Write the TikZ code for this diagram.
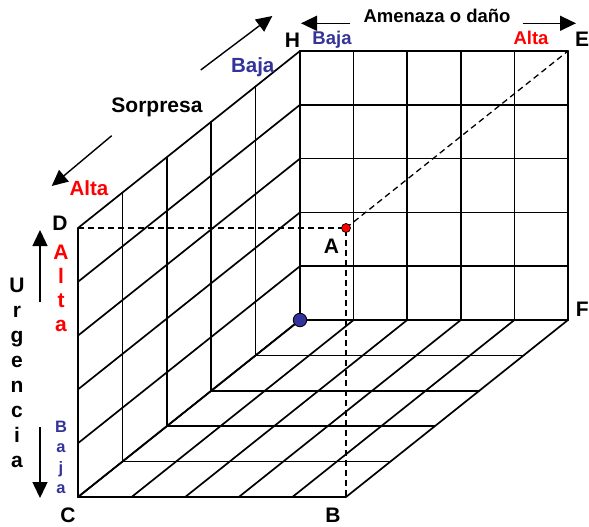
\documentclass[tikz,border=0pt]{standalone}
\usepackage{fontspec}
\setmainfont{Liberation Sans}
\usetikzlibrary{arrows.meta,calc}
\definecolor{lowblue}{HTML}{333399}
\definecolor{highred}{HTML}{FF0000}

\begin{document}
\begin{tikzpicture}[x=1pt, y=-1pt, every node/.style={font=\bfseries\fontsize{21}{25}\selectfont, inner sep=0pt}, grid/.style={line width=1.7pt, line cap=round}, guide/.style={line width=1.3pt, dash pattern=on 6pt off 4pt}, axisarrow/.style={line width=1.4pt, -{Triangle[length=16pt, width=15pt]}}, toptext/.style={font=\bfseries\fontsize{18.5}{22}\selectfont}, tinytext/.style={font=\bfseries\fontsize{16.5}{19}\selectfont}]
\useasboundingbox (0,0) rectangle (589,527);
% corners of the cube
\coordinate (C) at (78,497);
\coordinate (B) at (346,497);
\coordinate (D) at (78,228);
\coordinate (A) at (346,228);
\coordinate (O) at (300,320);
\coordinate (F) at (568,320);
\coordinate (H) at (300,51);
\coordinate (E) at (568,51);
% the three walls
\foreach \i in {0,...,5} {
  \draw[grid] ($(H)!\i/5!(E)$) -- ($(O)!\i/5!(F)$);
  \draw[grid] ($(H)!\i/5!(O)$) -- ($(E)!\i/5!(F)$);
  \draw[grid] ($(D)!\i/5!(H)$) -- ($(C)!\i/5!(O)$);
  \draw[grid] ($(D)!\i/5!(C)$) -- ($(H)!\i/5!(O)$);
  \draw[grid] ($(C)!\i/5!(O)$) -- ($(B)!\i/5!(F)$);
  \draw[grid] ($(C)!\i/5!(B)$) -- ($(O)!\i/5!(F)$);
}
% guides to point A
\draw[guide] (D) -- (A) -- (B);
\draw[guide] (A) -- (E);
\node[circle, fill=lowblue, draw=black, line width=0.8pt, minimum size=13.5pt] (origin) at (O) {};
\node[circle, fill=highred, draw=black, line width=0.7pt, minimum size=9pt] (apoint) at (A) {};
% corner labels
\node[anchor=base] (labH) at (292.5,48) {H};
\node[anchor=base] (labE) at (582,47) {E};
\node[anchor=base] (labD) at (60,230) {D};
\node[anchor=base] (labC) at (68,522) {C};
\node[anchor=base] (labB) at (333,522) {B};
\node[anchor=base east] (labF) at (589,316) {F};
\node[anchor=base] (labA) at (331.5,253) {A};
% threat axis
\node[toptext, anchor=base] (threat) at (437,22.7) {Amenaza o daño};
\node[toptext, anchor=base, text=lowblue] (threatlow) at (332,45) {Baja};
\node[toptext, anchor=base, text=highred] (threathigh) at (531,45) {Alta};
\coordinate (thl0) at (350,23.3);
\coordinate (thl1) at (301,23.3);
\coordinate (thh0) at (522.7,23.3);
\coordinate (thh1) at (576,23.3);
\draw[axisarrow] (thl0) -- (thl1);
\draw[axisarrow] (thh0) -- (thh1);
% surprise axis
\node[anchor=base] (surprise) at (157,112) {Sorpresa};
\node[anchor=base, font=\bfseries\fontsize{20.5}{24}\selectfont, text=lowblue] (surpriselow) at (252.7,72.7) {Baja};
\node[anchor=base, font=\bfseries\fontsize{20.5}{24}\selectfont, text=highred] (surprisehigh) at (89,195) {Alta};
\coordinate (sul0) at (200.7,70);
\coordinate (sul1) at (272.3,16);
\coordinate (suh0) at (111.7,135.7);
\coordinate (suh1) at (51.7,186);
\draw[axisarrow] (sul0) -- (sul1);
\draw[axisarrow] (suh0) -- (suh1);
% urgency axis
\foreach \l [count=\k from 0] in {U,r,g,e,n,c,i,a}
  \node[anchor=base] (urg\k) at (17,{292+25*\k}) {\l};
\foreach \l [count=\k from 0] in {A,l,t,a}
  \node[anchor=base, text=highred] (urghigh\k) at (61,{259+24*\k}) {\l};
\foreach \l [count=\k from 0] in {B,a,j,a}
  \node[tinytext, anchor=base, text=lowblue] (urglow\k) at (61,{432+20.6*\k}) {\l};
\coordinate (urh0) at (40,302);
\coordinate (urh1) at (40,230);
\coordinate (url0) at (40,427);
\coordinate (url1) at (40,498);
\draw[axisarrow] (urh0) -- (urh1);
\draw[axisarrow] (url0) -- (url1);
\end{tikzpicture}
\end{document}
